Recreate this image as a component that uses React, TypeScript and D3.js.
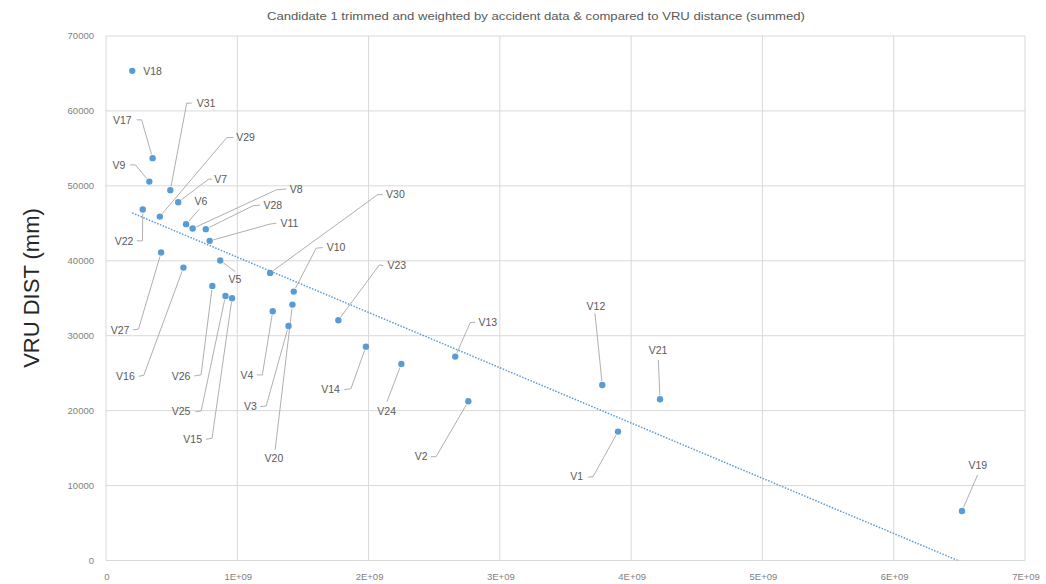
import React from "react";
import * as d3 from "d3";

// ---- data ----
const names = [
  "V1","V2","V3","V4","V5","V6","V7","V8","V9","V10",
  "V11","V12","V13","V14","V15","V16","V17","V18","V19","V20",
  "V21","V22","V23","V24","V25","V26","V27","V28","V29","V30","V31",
];
const accidentWeighted = [
  3.90e9, 2.76e9, 1.39e9, 1.27e9, 0.87e9, 0.61e9, 0.55e9, 0.66e9, 0.33e9, 1.43e9,
  0.79e9, 3.78e9, 2.66e9, 1.98e9, 0.96e9, 0.59e9, 0.355e9, 0.20e9, 6.52e9, 1.42e9,
  4.22e9, 0.28e9, 1.77e9, 2.25e9, 0.91e9, 0.81e9, 0.42e9, 0.76e9, 0.41e9, 1.25e9, 0.49e9,
];
const vruDist = [
  17200, 21250, 31300, 33270, 40030, 44890, 47820, 44300, 50570, 35890,
  42660, 23430, 27210, 28540, 35000, 39090, 53700, 65350, 6610, 34150,
  21520, 46840, 32070, 26240, 35310, 36650, 41100, 44220, 45900, 38380, 49430,
];
const xTicks = [0, 1e9, 2e9, 3e9, 4e9, 5e9, 6e9, 7e9];
const yTicks = [0, 10000, 20000, 30000, 40000, 50000, 60000, 70000];
const title = "Candidate 1 trimmed and weighted by accident data & compared to VRU distance (summed)";
const yTitle = "VRU DIST (mm)";

// ---- label layout (pixel offsets from each point) ----
type Lab = { tx: number; ty: number; anchor: string; leader: number[][] };
const labelLayout: Record<string, Lab> = {
  V18: { tx: 11, ty: 0, anchor: "start", leader: [] },
  V17: { tx: -21, ty: -38.3, anchor: "end", leader: [[-11, -38.3], [-16, -38.3]] },
  V9: { tx: -24, ty: -16.7, anchor: "end", leader: [[-14, -16.7], [-19, -16.7]] },
  V31: { tx: 26.4, ty: -87, anchor: "start", leader: [[16.4, -87], [21.4, -87]] },
  V7: { tx: 36, ty: -23, anchor: "start", leader: [[30.3, -23], [33.7, -23]] },
  V22: { tx: -9.4, ty: 32, anchor: "end", leader: [[-0.3, 31.3], [-6, 31.3]] },
  V29: { tx: 76.4, ty: -79, anchor: "start", leader: [[67, -79], [73.7, -79]] },
  V6: { tx: 8.3, ty: -23.3, anchor: "start", leader: [[13.3, -15]] },
  V8: { tx: 97, ty: -39.7, anchor: "start", leader: [[83.7, -38.7], [93.7, -39.7]] },
  V28: { tx: 57.6, ty: -23.6, anchor: "start", leader: [[47.6, -23.6], [54.3, -24]] },
  V11: { tx: 70.7, ty: -17.7, anchor: "start", leader: [[60, -16.7], [66.7, -17.7]] },
  V27: { tx: -31.7, ty: 77.3, anchor: "end", leader: [[-22.7, 76.6], [-28.3, 77.3]] },
  V5: { tx: 8.3, ty: 18.6, anchor: "start", leader: [[15, 11]] },
  V16: { tx: -48.7, ty: 108.7, anchor: "end", leader: [[-39.7, 107.7], [-44.7, 108.7]] },
  V30: { tx: 116, ty: -78.3, anchor: "start", leader: [[107.6, -78.3], [112.6, -78.3]] },
  V26: { tx: -22, ty: 90, anchor: "end", leader: [[-11.3, 89], [-18, 90]] },
  V10: { tx: 33, ty: -44, anchor: "start", leader: [[22.4, -43.4], [29, -44]] },
  V25: { tx: -35, ty: 115.6, anchor: "end", leader: [[-24.3, 115], [-30, 115.6]] },
  V15: { tx: -30, ty: 141, anchor: "end", leader: [[-20, 140], [-26, 141]] },
  V20: { tx: -18.5, ty: 153.6, anchor: "middle", leader: [[-17.3, 145.3]] },
  V4: { tx: -19.4, ty: 63.7, anchor: "end", leader: [[-10.4, 63.7], [-16, 63.7]] },
  V23: { tx: 49, ty: -54.6, anchor: "start", leader: [[41, -55.3], [45, -54.6]] },
  V3: { tx: -31.6, ty: 80.7, anchor: "end", leader: [[-22.3, 80], [-28.3, 80.7]] },
  V14: { tx: -26, ty: 43, anchor: "end", leader: [[-15, 42], [-21.7, 43]] },
  V13: { tx: 23.3, ty: -34.4, anchor: "start", leader: [[15, -34], [20, -34.4]] },
  V24: { tx: -14.7, ty: 47.7, anchor: "middle", leader: [[-14.4, 37.7]] },
  V12: { tx: -6.3, ty: -78.3, anchor: "middle", leader: [[-7.3, -71.7]] },
  V21: { tx: -2, ty: -49.3, anchor: "middle", leader: [[-1.7, -39.3]] },
  V2: { tx: -40.7, ty: 55.4, anchor: "end", leader: [[-32.3, 55.4], [-37.3, 55.4]] },
  V1: { tx: -35, ty: 45, anchor: "end", leader: [[-25, 45], [-30, 45.6]] },
  V19: { tx: 15.8, ty: -46, anchor: "middle", leader: [[15.6, -36]] },
};

const W = 1046;
const H = 584;
const plot = { left: 106, right: 1025, top: 36, bottom: 560.5 };

export default function App() {
  const x = d3.scaleLinear().domain([0, 7e9]).range([plot.left, plot.right]);
  const y = d3.scaleLinear().domain([0, 70000]).range([plot.bottom, plot.top]);

  // linear trendline (least squares)
  const mx = d3.mean(accidentWeighted) as number;
  const my = d3.mean(vruDist) as number;
  let sxy = 0, sxx = 0;
  accidentWeighted.forEach((xv, i) => {
    sxy += (xv - mx) * (vruDist[i] - my);
    sxx += (xv - mx) * (xv - mx);
  });
  const slope = sxy / sxx;
  const icpt = my - slope * mx;
  const x0 = d3.min(accidentWeighted) as number;
  const x1 = d3.max(accidentWeighted) as number;
  const trend = d3.line<number>().x((v) => x(v)).y((v) => y(icpt + slope * v))([x0, x1]);

  const fmtX = (v: number) => (v === 0 ? "0" : `${v / 1e9}E+09`);
  const font = "'Liberation Sans', Arial, sans-serif";

  const pts = names.map((n, i) => ({ n, px: x(accidentWeighted[i]), py: y(vruDist[i]) }));

  return (
    <svg width={W} height={H} style={{ position: "absolute", left: 0, top: 0, display: "block", background: "#fff" }}>
      <defs>
        <clipPath id="plotclip">
          <rect x={plot.left} y={plot.top} width={plot.right - plot.left} height={plot.bottom - plot.top} />
        </clipPath>
      </defs>
      <rect x={0} y={0} width={W} height={H} fill="#fff" />
      {/* grid */}
      {yTicks.map((t) => (
        <line key={"gy" + t} x1={plot.left} x2={plot.right} y1={y(t)} y2={y(t)} stroke="#d9d9d9" strokeWidth={1} />
      ))}
      {xTicks.map((t) => (
        <line key={"gx" + t} x1={x(t)} x2={x(t)} y1={plot.top} y2={plot.bottom} stroke="#d9d9d9" strokeWidth={1} />
      ))}
      {/* tick labels */}
      {yTicks.map((t) => (
        <text key={"ty" + t} x={94} y={y(t)} dy="0.35em" textAnchor="end" fontSize={9.5} fill="#7f7f7f" fontFamily={font}>
          {t}
        </text>
      ))}
      {xTicks.map((t) => (
        <text key={"tx" + t} x={x(t) + 1} y={577} dy="0.35em" textAnchor="middle" fontSize={9.5} fill="#7f7f7f" fontFamily={font}>
          {fmtX(t)}
        </text>
      ))}
      {/* title */}
      <text x={536} y={16} dy="0.35em" textAnchor="middle" fontSize={11.5} fill="#595959" fontFamily={font}
        textLength={538} lengthAdjust="spacingAndGlyphs">
        {title}
      </text>
      {/* y axis title */}
      <text transform={`translate(39,${288}) rotate(-90)`} textAnchor="middle" fontSize={22} fill="#262626" fontFamily={font}>
        {yTitle}
      </text>
      {/* trendline */}
      <path d={trend ?? ""} fill="none" stroke="#5b9bd5" strokeWidth={1.5} strokeDasharray="1.5 1.5" clipPath="url(#plotclip)" />
      {/* leader lines */}
      {pts.map(({ n, px, py }) => {
        const L = labelLayout[n];
        if (!L || L.leader.length === 0) return null;
        const first = L.leader[0];
        const len = Math.hypot(first[0], first[1]);
        const s = len > 0 ? 4 / len : 0;
        const pp = [[px + first[0] * s, py + first[1] * s], ...L.leader.map(([a, b]) => [px + a, py + b])];
        return (
          <polyline key={"ll" + n} points={pp.map((p) => p.join(",")).join(" ")} fill="none" stroke="#a6a6a6" strokeWidth={0.9} />
        );
      })}
      {/* points */}
      {pts.map(({ n, px, py }) => (
        <circle key={"pt" + n} cx={px} cy={py} r={3.2} fill="#5b9bd5" />
      ))}
      {/* labels */}
      {pts.map(({ n, px, py }) => {
        const L = labelLayout[n];
        return (
          <text key={"lb" + n} x={px + L.tx} y={py + L.ty} dy="0.35em" textAnchor={L.anchor} fontSize={10.5} fill="#595959" fontFamily={font}>
            {n}
          </text>
        );
      })}
    </svg>
  );
}
